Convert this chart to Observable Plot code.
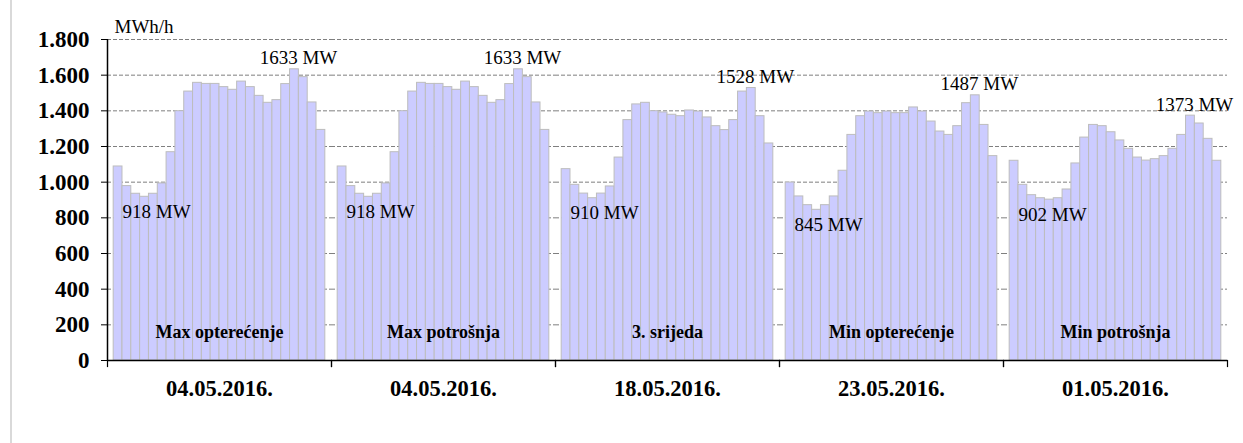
<!DOCTYPE html>
<html>
<head>
<meta charset="utf-8">
<script src="https://cdn.jsdelivr.net/npm/d3@7"></script>
<script src="https://cdn.jsdelivr.net/npm/@observablehq/plot@0.6"></script>
<style>
  html, body { margin: 0; padding: 0; background: #fff; }
  #wrap { position: relative; width: 1243px; height: 443px; }
  #wrap::before { content: ""; position: absolute; left: 10px; top: 0; bottom: 0; width: 2px; background: #d9d9d9; }
  svg, svg text { font-family: "Liberation Serif", "Times New Roman", serif; }
</style>
</head>
<body>
<div id="wrap"></div>
<script>
const groups = ["Max opterećenje", "Max potrošnja", "3. srijeda", "Min opterećenje", "Min potrošnja"];
const dates = ["04.05.2016.", "04.05.2016.", "18.05.2016.", "23.05.2016.", "01.05.2016."];
const hours = d3.range(24);

const maxOpt = [1088, 978, 935, 918, 935, 993, 1168, 1398, 1508, 1557, 1551, 1551, 1533, 1518, 1564, 1533, 1484, 1445, 1460, 1550, 1633, 1589, 1447, 1293];
const maxPot = [1088, 978, 935, 918, 935, 993, 1168, 1398, 1508, 1557, 1551, 1551, 1533, 1518, 1564, 1533, 1484, 1445, 1460, 1550, 1633, 1589, 1447, 1293];
const srijeda = [1073, 985, 936, 910, 936, 976, 1138, 1348, 1436, 1445, 1398, 1391, 1378, 1370, 1402, 1396, 1363, 1314, 1292, 1348, 1508, 1528, 1370, 1217];
const minOpt = [998, 920, 871, 845, 871, 920, 1064, 1265, 1370, 1396, 1387, 1396, 1387, 1387, 1419, 1396, 1340, 1284, 1265, 1314, 1443, 1487, 1321, 1146];
const minPot = [1120, 985, 927, 910, 902, 910, 959, 1105, 1250, 1321, 1314, 1280, 1234, 1187, 1138, 1121, 1129, 1146, 1187, 1265, 1373, 1329, 1243, 1120];

const series = [maxOpt, maxPot, srijeda, minOpt, minPot];
const yTicks = [0, 200, 400, 600, 800, 1000, 1200, 1400, 1600, 1800];

const data = [];
groups.forEach((g, i) => hours.forEach(h => data.push({group: g, hour: h, value: series[i][h]})));

const minLabels = groups.map((g, i) => {
  const v = d3.min(series[i]);
  return {group: g, hour: series[i].indexOf(v), value: v};
});
const maxLabels = groups.map((g, i) => {
  const v = d3.max(series[i]);
  return {group: g, hour: series[i].indexOf(v), value: v};
});

const fmt = d => d3.format(",")(d).replace(/,/g, ".");
const serif = "'Liberation Serif', 'Times New Roman', serif";

const W = 1243, H = 443, mTop = 39, mBottom = 83, mLeft = 106, mRight = 15.5;

const chart = Plot.plot({
  width: W,
  height: H,
  marginTop: mTop,
  marginBottom: mBottom,
  marginLeft: mLeft,
  marginRight: mRight,
  style: {fontFamily: serif, overflow: "visible"},
  fx: {domain: groups, padding: 0, label: null},
  x: {domain: [-0.7, 24.7], axis: null},
  y: {domain: [0, 1800], ticks: yTicks, label: null},
  marks: [
    Plot.ruleY(yTicks.filter(d => d > 0), {stroke: "#7f7f7f", strokeWidth: 1, strokeDasharray: "4,2"}),
    Plot.rectY(data, {fx: "group", x1: "hour", x2: d => d.hour + 1, y: "value", fill: "#ccccff", stroke: "#bdbdbd", strokeWidth: 1}),
    Plot.ruleY([0], {stroke: "#000", strokeWidth: 1.5}),
    Plot.ruleX([groups[0]], {fx: d => d, x: -0.7, y1: 0, y2: 1800, stroke: "#000", strokeWidth: 1.5}),
    Plot.frame({anchor: "left", insetTop: H - mTop - mBottom, insetBottom: -6, stroke: "#000", strokeWidth: 1.2}),
    Plot.frame({anchor: "right", insetTop: H - mTop - mBottom, insetBottom: -6, stroke: "#000", strokeWidth: 1.2}),
    Plot.axisY({ticks: yTicks, tickFormat: fmt, tickSize: 6, tickPadding: 12, fontSize: 23, fontWeight: "bold", fontFamily: serif, fill: "#000"}),
    Plot.axisFx({anchor: "bottom", tickSize: 0, tickPadding: 20, tickFormat: g => dates[groups.indexOf(g)], fontSize: 22.5, fontWeight: "bold", fontFamily: serif, fill: "#000"}),
    Plot.text(groups, {fx: d => d, text: d => d, frameAnchor: "bottom", dy: -23, fontSize: 18, fontWeight: "bold", fontFamily: serif, fill: "#000"}),
    Plot.text(minLabels, {fx: "group", x: 1, y: "value", text: d => d.value + " MW", textAnchor: "start", dy: 15, fontSize: 19, fontFamily: serif, fill: "#000"}),
    Plot.text(maxLabels, {fx: "group", x: d => d.hour + 0.5, y: "value", text: d => d.value + " MW", textAnchor: "middle", dx: 4, dy: -11, fontSize: 19, fontFamily: serif, fill: "#000"}),
    Plot.text(["MWh/h"], {fx: () => groups[0], text: d => d, frameAnchor: "top-left", dx: 7, dy: -20, fontSize: 19, fontFamily: serif, fill: "#000"})
  ]
});
document.getElementById("wrap").appendChild(chart);
</script>
</body>
</html>
